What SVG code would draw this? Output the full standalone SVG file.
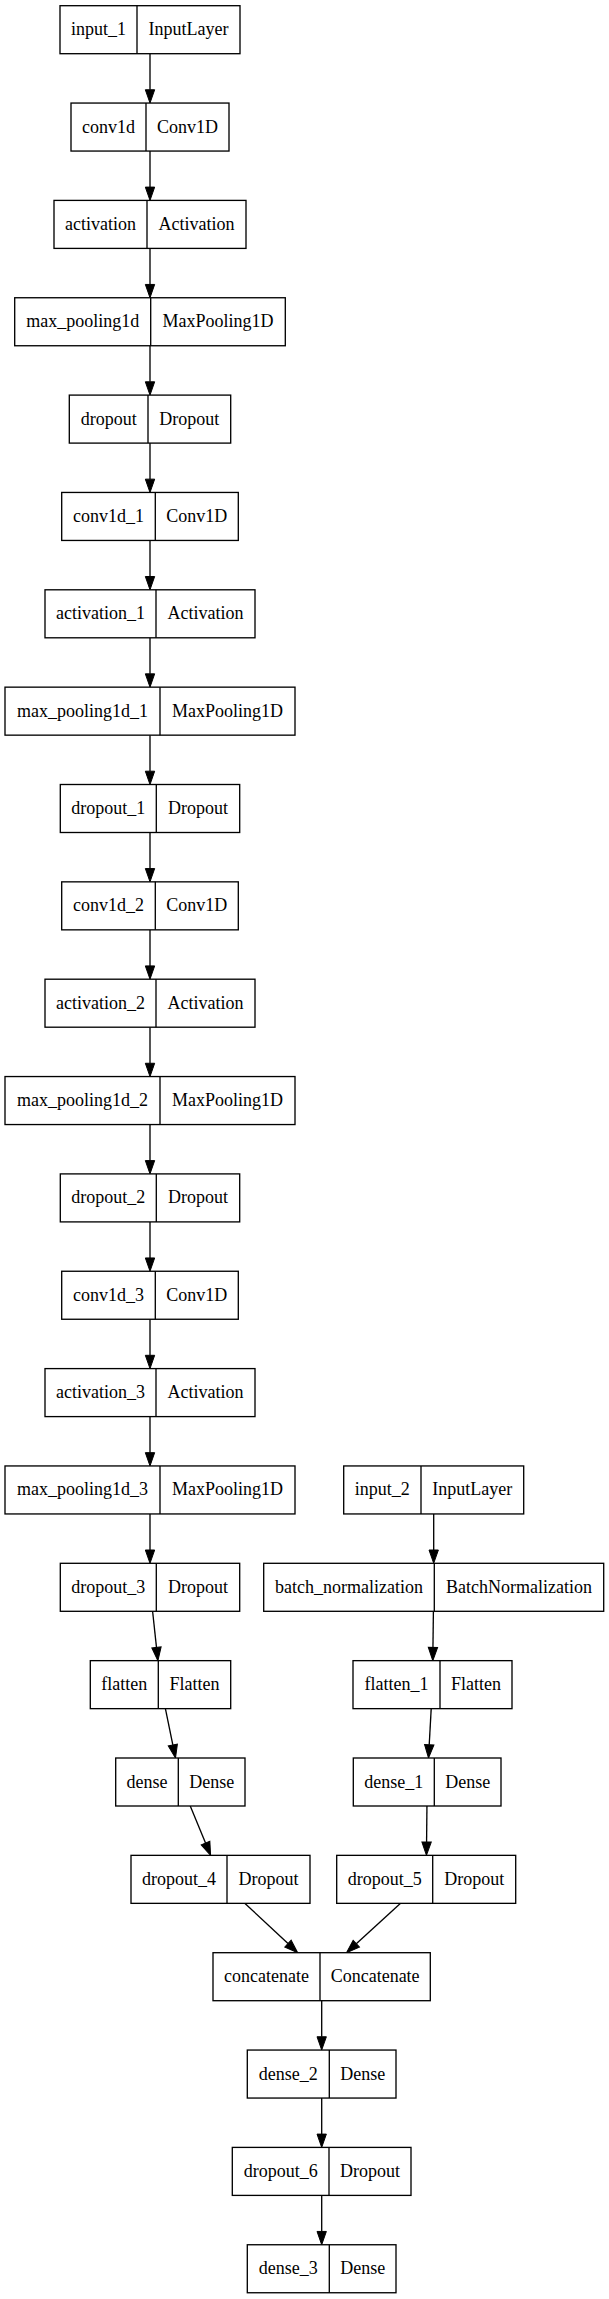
<svg xmlns="http://www.w3.org/2000/svg" width="609" height="2299" viewBox="0 0 609 2299">
<style>
.n rect{fill:#ffffff;stroke:#000000;stroke-width:1.33}
.n line{stroke:#000000;stroke-width:1.33}
.n text{font-family:"Liberation Serif","Times New Roman",serif;font-size:18px;fill:#000000;text-anchor:middle}
#edges line{stroke:#000000;stroke-width:1.33;fill:none;marker-end:url(#arr)}
</style>
<defs>
<marker id="arr" markerUnits="userSpaceOnUse" markerWidth="16" markerHeight="12" refX="0" refY="0" orient="auto" overflow="visible">
<path d="M0,-4.67 L13.3,0 L0,4.67 Z" fill="#000000" stroke="#000000" stroke-width="1"/>
</marker>
</defs>
<rect x="0" y="0" width="609" height="2299" fill="#ffffff"/>
<g id="edges">
<line x1="150" y1="53.7" x2="150" y2="89.75"/>
<line x1="150" y1="151.05" x2="150" y2="187.1"/>
<line x1="150" y1="248.4" x2="150" y2="284.45"/>
<line x1="150" y1="345.75" x2="150" y2="381.8"/>
<line x1="150" y1="443.1" x2="150" y2="479.15"/>
<line x1="150" y1="540.45" x2="150" y2="576.5"/>
<line x1="150" y1="637.8" x2="150" y2="673.85"/>
<line x1="150" y1="735.15" x2="150" y2="771.2"/>
<line x1="150" y1="832.5" x2="150" y2="868.55"/>
<line x1="150" y1="929.85" x2="150" y2="965.9"/>
<line x1="150" y1="1027.2" x2="150" y2="1063.25"/>
<line x1="150" y1="1124.55" x2="150" y2="1160.6"/>
<line x1="150" y1="1221.9" x2="150" y2="1257.95"/>
<line x1="150" y1="1319.25" x2="150" y2="1355.3"/>
<line x1="150" y1="1416.6" x2="150" y2="1452.65"/>
<line x1="150" y1="1513.95" x2="150" y2="1550"/>
<line x1="433.7" y1="1513.95" x2="433.7" y2="1550"/>
<line x1="152.6" y1="1611.3" x2="156.48" y2="1647.43"/>
<line x1="165.4" y1="1708.65" x2="172.83" y2="1744.97"/>
<line x1="190.25" y1="1806" x2="205.53" y2="1843.05"/>
<line x1="245" y1="1903.4" x2="287.99" y2="1943.61"/>
<line x1="433.4" y1="1611.3" x2="432.96" y2="1647.35"/>
<line x1="431.2" y1="1708.65" x2="429.23" y2="1744.72"/>
<line x1="426.95" y1="1806" x2="426.58" y2="1842.05"/>
<line x1="400.3" y1="1903.4" x2="356.31" y2="1943.71"/>
<line x1="321.7" y1="2000.7" x2="321.7" y2="2036.75"/>
<line x1="321.7" y1="2098.05" x2="321.7" y2="2134.1"/>
<line x1="321.7" y1="2195.4" x2="321.7" y2="2231.45"/>
</g>
<g id="input_1" class="n"><rect x="60" y="5.7" width="180" height="48"/><line x1="137" y1="5.7" x2="137" y2="53.7"/><text x="98.5" y="35.2">input_1</text><text x="188.5" y="35.2">InputLayer</text></g>
<g id="conv1d" class="n"><rect x="71" y="103.05" width="158" height="48"/><line x1="146" y1="103.05" x2="146" y2="151.05"/><text x="108.5" y="132.55">conv1d</text><text x="187.5" y="132.55">Conv1D</text></g>
<g id="activation" class="n"><rect x="54" y="200.4" width="192" height="48"/><line x1="147" y1="200.4" x2="147" y2="248.4"/><text x="100.5" y="229.9">activation</text><text x="196.5" y="229.9">Activation</text></g>
<g id="max_pooling1d" class="n"><rect x="14.7" y="297.75" width="270.6" height="48"/><line x1="150.7" y1="297.75" x2="150.7" y2="345.75"/><text x="82.7" y="327.25">max_pooling1d</text><text x="218" y="327.25">MaxPooling1D</text></g>
<g id="dropout" class="n"><rect x="69.3" y="395.1" width="161.4" height="48"/><line x1="148" y1="395.1" x2="148" y2="443.1"/><text x="108.65" y="424.6">dropout</text><text x="189.35" y="424.6">Dropout</text></g>
<g id="conv1d_1" class="n"><rect x="61.7" y="492.45" width="176.6" height="48"/><line x1="155.3" y1="492.45" x2="155.3" y2="540.45"/><text x="108.5" y="521.95">conv1d_1</text><text x="196.8" y="521.95">Conv1D</text></g>
<g id="activation_1" class="n"><rect x="45" y="589.8" width="210" height="48"/><line x1="156" y1="589.8" x2="156" y2="637.8"/><text x="100.5" y="619.3">activation_1</text><text x="205.5" y="619.3">Activation</text></g>
<g id="max_pooling1d_1" class="n"><rect x="5" y="687.15" width="290" height="48"/><line x1="160" y1="687.15" x2="160" y2="735.15"/><text x="82.5" y="716.65">max_pooling1d_1</text><text x="227.5" y="716.65">MaxPooling1D</text></g>
<g id="dropout_1" class="n"><rect x="60.3" y="784.5" width="179.4" height="48"/><line x1="156.3" y1="784.5" x2="156.3" y2="832.5"/><text x="108.3" y="814">dropout_1</text><text x="198" y="814">Dropout</text></g>
<g id="conv1d_2" class="n"><rect x="61.7" y="881.85" width="176.6" height="48"/><line x1="155.3" y1="881.85" x2="155.3" y2="929.85"/><text x="108.5" y="911.35">conv1d_2</text><text x="196.8" y="911.35">Conv1D</text></g>
<g id="activation_2" class="n"><rect x="45" y="979.2" width="210" height="48"/><line x1="156" y1="979.2" x2="156" y2="1027.2"/><text x="100.5" y="1008.7">activation_2</text><text x="205.5" y="1008.7">Activation</text></g>
<g id="max_pooling1d_2" class="n"><rect x="5" y="1076.55" width="290" height="48"/><line x1="160" y1="1076.55" x2="160" y2="1124.55"/><text x="82.5" y="1106.05">max_pooling1d_2</text><text x="227.5" y="1106.05">MaxPooling1D</text></g>
<g id="dropout_2" class="n"><rect x="60.3" y="1173.9" width="179.4" height="48"/><line x1="156.3" y1="1173.9" x2="156.3" y2="1221.9"/><text x="108.3" y="1203.4">dropout_2</text><text x="198" y="1203.4">Dropout</text></g>
<g id="conv1d_3" class="n"><rect x="61.7" y="1271.25" width="176.6" height="48"/><line x1="155.3" y1="1271.25" x2="155.3" y2="1319.25"/><text x="108.5" y="1300.75">conv1d_3</text><text x="196.8" y="1300.75">Conv1D</text></g>
<g id="activation_3" class="n"><rect x="45" y="1368.6" width="210" height="48"/><line x1="156" y1="1368.6" x2="156" y2="1416.6"/><text x="100.5" y="1398.1">activation_3</text><text x="205.5" y="1398.1">Activation</text></g>
<g id="max_pooling1d_3" class="n"><rect x="5" y="1465.95" width="290" height="48"/><line x1="160" y1="1465.95" x2="160" y2="1513.95"/><text x="82.5" y="1495.45">max_pooling1d_3</text><text x="227.5" y="1495.45">MaxPooling1D</text></g>
<g id="input_2" class="n"><rect x="343.7" y="1465.95" width="180" height="48"/><line x1="421" y1="1465.95" x2="421" y2="1513.95"/><text x="382.35" y="1495.45">input_2</text><text x="472.35" y="1495.45">InputLayer</text></g>
<g id="dropout_3" class="n"><rect x="60.3" y="1563.3" width="179.4" height="48"/><line x1="156.3" y1="1563.3" x2="156.3" y2="1611.3"/><text x="108.3" y="1592.8">dropout_3</text><text x="198" y="1592.8">Dropout</text></g>
<g id="batch_normalization" class="n"><rect x="263.7" y="1563.3" width="340" height="48"/><line x1="434.3" y1="1563.3" x2="434.3" y2="1611.3"/><text x="349" y="1592.8">batch_normalization</text><text x="519" y="1592.8">BatchNormalization</text></g>
<g id="flatten" class="n"><rect x="90.3" y="1660.65" width="140.4" height="48"/><line x1="158.3" y1="1660.65" x2="158.3" y2="1708.65"/><text x="124.3" y="1690.15">flatten</text><text x="194.5" y="1690.15">Flatten</text></g>
<g id="flatten_1" class="n"><rect x="353" y="1660.65" width="159" height="48"/><line x1="440" y1="1660.65" x2="440" y2="1708.65"/><text x="396.5" y="1690.15">flatten_1</text><text x="476" y="1690.15">Flatten</text></g>
<g id="dense" class="n"><rect x="115.7" y="1758" width="129.3" height="48"/><line x1="178.3" y1="1758" x2="178.3" y2="1806"/><text x="147" y="1787.5">dense</text><text x="211.65" y="1787.5">Dense</text></g>
<g id="dense_1" class="n"><rect x="353.3" y="1758" width="147.7" height="48"/><line x1="434.3" y1="1758" x2="434.3" y2="1806"/><text x="393.8" y="1787.5">dense_1</text><text x="467.65" y="1787.5">Dense</text></g>
<g id="dropout_4" class="n"><rect x="131" y="1855.35" width="179" height="48"/><line x1="227" y1="1855.35" x2="227" y2="1903.35"/><text x="179" y="1884.85">dropout_4</text><text x="268.5" y="1884.85">Dropout</text></g>
<g id="dropout_5" class="n"><rect x="336.7" y="1855.35" width="179" height="48"/><line x1="432.7" y1="1855.35" x2="432.7" y2="1903.35"/><text x="384.7" y="1884.85">dropout_5</text><text x="474.2" y="1884.85">Dropout</text></g>
<g id="concatenate" class="n"><rect x="213" y="1952.7" width="217.3" height="48"/><line x1="320" y1="1952.7" x2="320" y2="2000.7"/><text x="266.5" y="1982.2">concatenate</text><text x="375.15" y="1982.2">Concatenate</text></g>
<g id="dense_2" class="n"><rect x="247.3" y="2050.05" width="148.7" height="48"/><line x1="329.3" y1="2050.05" x2="329.3" y2="2098.05"/><text x="288.3" y="2079.55">dense_2</text><text x="362.65" y="2079.55">Dense</text></g>
<g id="dropout_6" class="n"><rect x="232.3" y="2147.4" width="178.7" height="48"/><line x1="329" y1="2147.4" x2="329" y2="2195.4"/><text x="280.65" y="2176.9">dropout_6</text><text x="370" y="2176.9">Dropout</text></g>
<g id="dense_3" class="n"><rect x="247.3" y="2244.75" width="148.7" height="48"/><line x1="329.3" y1="2244.75" x2="329.3" y2="2292.75"/><text x="288.3" y="2274.25">dense_3</text><text x="362.65" y="2274.25">Dense</text></g>
</svg>
